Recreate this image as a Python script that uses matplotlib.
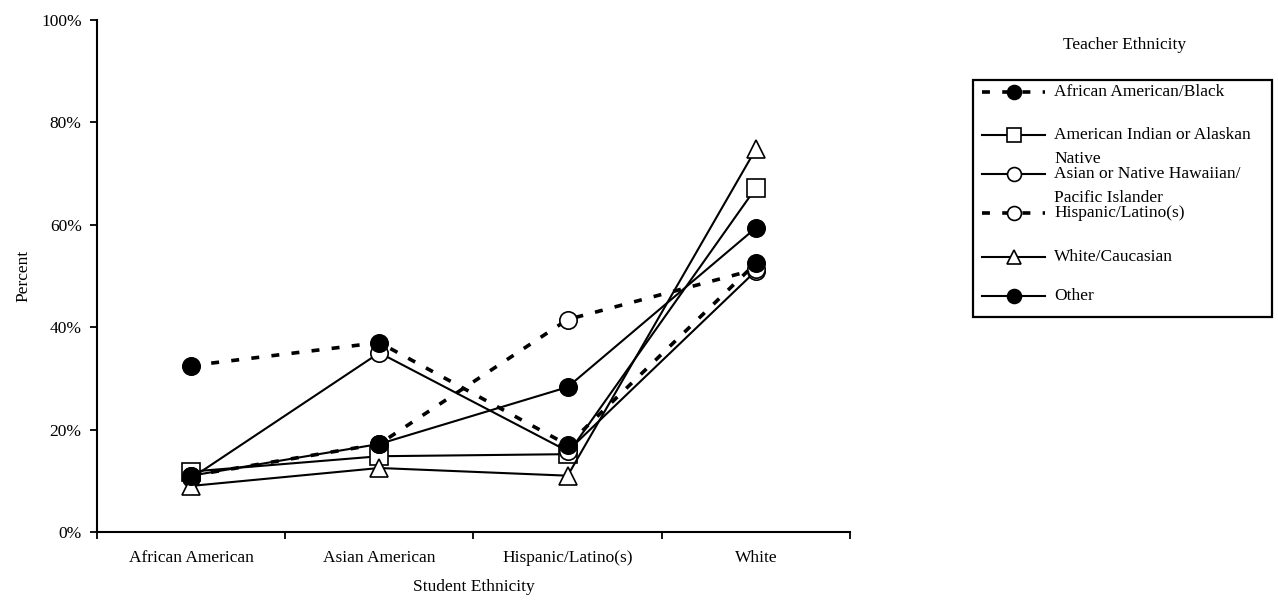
import matplotlib
matplotlib.use('Agg')
import matplotlib.pyplot as plt
from matplotlib.lines import Line2D
from matplotlib.patches import Rectangle
from matplotlib.ticker import FixedLocator, FuncFormatter

plt.rcParams['font.family'] = ['Liberation Serif', 'DejaVu Serif']

students = ['African American', 'Asian American', 'Hispanic/Latino(s)', 'White']

# percent of students, one list per teacher ethnicity
african_american_black = [32.5, 37.0, 17.0, 52.5]
american_indian = [11.8, 14.8, 15.2, 67.2]
asian_hawaiian = [10.5, 35.0, 15.8, 51.0]
hispanic_latino = [11.0, 17.2, 41.5, 51.3]
white_caucasian = [9.0, 12.5, 11.0, 74.8]
other = [11.0, 17.2, 28.3, 59.4]

labels = ['African American/Black',
          'American Indian or Alaskan\nNative',
          'Asian or Native Hawaiian/\nPacific Islander',
          'Hispanic/Latino(s)',
          'White/Caucasian',
          'Other']
series = [african_american_black, american_indian, asian_hawaiian,
          hispanic_latino, white_caucasian, other]
# (dashed, marker, filled)
styles = [(True, 'o', True), (False, 's', False), (False, 'o', False),
          (True, 'o', False), (False, '^', False), (False, 'o', True)]
# hollow markers first so the filled ones sit on top
draw_order = [1, 2, 3, 4, 0, 5]

FS = 12.5
W, H = 1278, 603
fig = plt.figure(figsize=(W / 100, H / 100), dpi=100)
ax = fig.add_axes([97 / W, 1 - 532 / H, (850 - 97) / W, (532 - 20) / H])


def style_kw(dashed, marker, filled, ms):
    kw = dict(color='black', marker=marker, markersize=ms,
              markerfacecolor='black' if filled else 'white',
              markeredgecolor='black', markeredgewidth=1.2)
    if dashed:
        kw.update(linewidth=2.6, linestyle=(0, (2.2, 3.4)))
    else:
        kw.update(linewidth=1.5, linestyle='-')
    return kw


x = list(range(len(students)))
for i in draw_order:
    ax.plot(x, series[i], **style_kw(*styles[i], ms=12.5), zorder=3 + (1 if styles[i][2] else 0))

ax.set_xlim(-0.5, len(students) - 0.5)
ax.set_ylim(0, 100)
ax.spines['top'].set_visible(False)
ax.spines['right'].set_visible(False)
ax.spines['left'].set_linewidth(1.5)
ax.spines['bottom'].set_linewidth(1.5)

ax.set_xticks(x)
ax.set_xticklabels(students, fontsize=FS)
ax.xaxis.set_minor_locator(FixedLocator([v - 0.5 for v in range(len(students) + 1)]))
ax.tick_params(axis='x', which='major', length=0, pad=13)
ax.tick_params(axis='x', which='minor', length=5, width=1.3, direction='out')

ax.set_yticks([0, 20, 40, 60, 80, 100])
ax.yaxis.set_major_formatter(FuncFormatter(lambda v, p: '%d%%' % v))
ax.tick_params(axis='y', length=5, width=1.3, direction='out', labelsize=FS, pad=6)

ax.set_xlabel('Student Ethnicity', fontsize=FS, labelpad=9)
ax.set_ylabel('Percent', fontsize=FS, labelpad=7)


# legend box drawn by hand, handles aligned with the first line of each label
def fp(px, py):
    return px / W, 1 - py / H


fig.text(*fp(1125, 45), 'Teacher Ethnicity', fontsize=FS, ha='center', va='center')
x0, y0 = fp(973, 317)
x1, y1 = fp(1272, 80)
fig.add_artist(Rectangle((x0, y0), x1 - x0, y1 - y0, transform=fig.transFigure,
                         fill=False, edgecolor='black', linewidth=1.6))

entry_y = [92, 135, 174, 213, 257, 296]
for (dashed, marker, filled), label, py in zip(styles, labels, entry_y):
    lx0, ly = fp(982, py)
    lx1, _ = fp(1045, py)
    mx, _ = fp(1014, py)
    line_kw = style_kw(dashed, marker, filled, 10)
    line_kw.pop('marker')
    fig.add_artist(Line2D([lx0, lx1], [ly, ly], transform=fig.transFigure, **line_kw))
    fig.add_artist(Line2D([mx], [ly], transform=fig.transFigure, linestyle='none',
                          marker=marker, markersize=10,
                          markerfacecolor='black' if filled else 'white',
                          markeredgecolor='black', markeredgewidth=1.2))
    for k, part in enumerate(label.split('\n')):
        fig.text(*fp(1054, py + 24 * k), part, fontsize=FS, ha='left', va='center')

fig.savefig('out.png', dpi=100)
